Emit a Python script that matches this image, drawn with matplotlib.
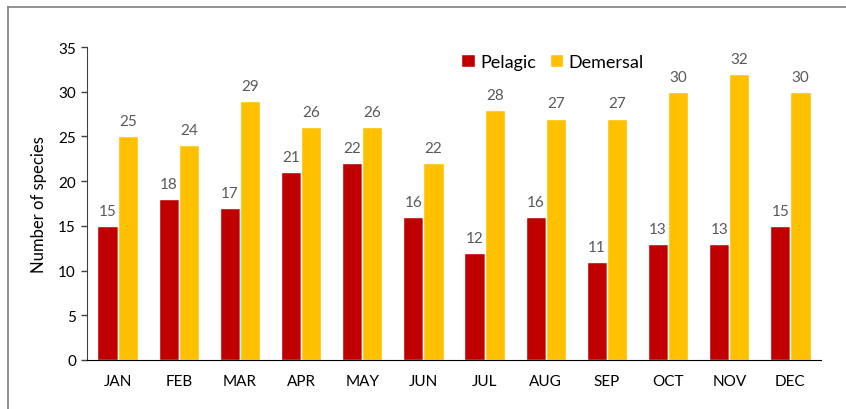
import matplotlib
matplotlib.use("Agg")
import matplotlib.pyplot as plt
import numpy as np
from matplotlib.lines import Line2D

months = ["JAN", "FEB", "MAR", "APR", "MAY", "JUN", "JUL", "AUG", "SEP", "OCT", "NOV", "DEC"]
pelagic = [15, 18, 17, 21, 22, 16, 12, 16, 11, 13, 13, 15]
demersal = [25, 24, 29, 26, 26, 22, 28, 27, 27, 30, 32, 30]

plt.rcParams['font.family'] = ['Lato', 'DejaVu Sans']

fig = plt.figure(figsize=(8.46, 4.10), dpi=100)
ax = fig.add_axes([87/846, 1-361/410, (821-87)/846, (361-48)/410])

x = np.arange(len(months))
w = 0.33
red = "#C00000"
gold = "#FFC000"
ax.bar(x - w/2, pelagic, w, color=red, edgecolor="white", linewidth=1.0, label="Pelagic")
ax.bar(x + w/2, demersal, w, color=gold, edgecolor="white", linewidth=1.0, label="Demersal")

for xi, v in zip(x, pelagic):
    ax.text(xi - w/2, v + 0.9, str(v), ha="center", va="bottom", fontsize=11, color="#595959")
for xi, v in zip(x, demersal):
    ax.text(xi + w/2, v + 0.9, str(v), ha="center", va="bottom", fontsize=11, color="#595959")

ax.set_xlim(-0.5, len(months) - 0.5)
ax.set_ylim(0, 35)
ax.set_yticks(range(0, 36, 5))
ax.set_xticks(x)
ax.set_xticklabels(months)
ax.tick_params(axis="y", length=4, width=1, labelsize=11, pad=4, color="#404040")
ax.tick_params(axis="x", length=0, labelsize=11, pad=10)
for s in ["top", "right"]:
    ax.spines[s].set_visible(False)
ax.spines["left"].set_color("#404040")
ax.spines["bottom"].set_color("#000000")
ax.set_ylabel("Number of species", fontsize=12, labelpad=8)

ax.legend(loc="upper left", bbox_to_anchor=(0.488, 1.03), ncol=2, frameon=False,
          fontsize=13, handlelength=0.75, handleheight=0.75, handletextpad=0.3,
          columnspacing=0.75)

# figure frame
fig.add_artist(Line2D([8/846, 8/846], [0, 1-8/410], transform=fig.transFigure, color="#7f7f7f", lw=1.2))
fig.add_artist(Line2D([8/846, 1], [1-8/410, 1-8/410], transform=fig.transFigure, color="#7f7f7f", lw=1.2))

fig.savefig("out.png", dpi=100)
